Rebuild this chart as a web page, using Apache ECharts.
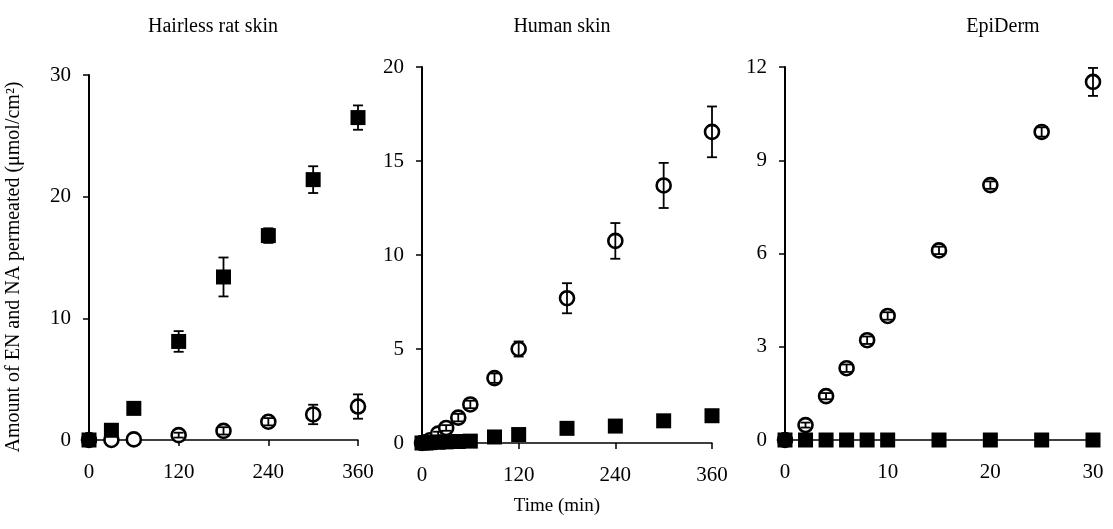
<!DOCTYPE html>
<html>
<head>
<meta charset="utf-8">
<script src="https://cdn.jsdelivr.net/npm/echarts@6/dist/echarts.min.js"></script>
<style>
html,body{margin:0;padding:0;background:#fff;}
#chart{width:1113px;height:529px;}
</style>
</head>
<body>
<div id="chart"></div>
<script>
// ---- Data ----
const panelTitles = ['Hairless rat skin', 'Human skin', 'EpiDerm'];
const xAxisTitle = 'Time (min)';
const yAxisTitle = 'Amount of EN and NA permeated (\u03bcmol/cm\u00b2)';

// Hairless rat skin
const ratTime = [0, 30, 60, 120, 180, 240, 300, 360];
const ratEN = [0, 0, 0.05, 0.4, 0.75, 1.5, 2.1, 2.75];
const ratENErr = [0, 0, 0, 0.2, 0.3, 0.3, 0.8, 1.0];
const ratNA = [0, 0.8, 2.6, 8.1, 13.4, 16.8, 21.4, 26.5];
const ratNAErr = [0, 0, 0, 0.85, 1.6, 0.6, 1.1, 1.0];

// Human skin
const humTime = [0, 5, 10, 20, 30, 45, 60, 90, 120, 180, 240, 300, 360];
const humEN = [0, 0.05, 0.15, 0.5, 0.8, 1.35, 2.05, 3.45, 5.0, 7.7, 10.75, 13.7, 16.55];
const humENErr = [0, 0, 0, 0.1, 0.15, 0.2, 0.2, 0.25, 0.4, 0.8, 0.95, 1.2, 1.35];
const humNA = [0, 0, 0.02, 0.04, 0.06, 0.08, 0.1, 0.32, 0.45, 0.78, 0.9, 1.18, 1.45];
const humNAErr = [0, 0, 0, 0, 0, 0, 0, 0, 0, 0, 0, 0, 0];

// EpiDerm
const epiTime = [0, 2, 4, 6, 8, 10, 15, 20, 25, 30];
const epiEN = [0, 0.48, 1.41, 2.31, 3.21, 3.99, 6.1, 8.2, 9.91, 11.52];
const epiENErr = [0, 0.08, 0.1, 0.12, 0.12, 0.12, 0.12, 0.12, 0.15, 0.45];
const epiNA = [0, 0, 0, 0, 0, 0, 0, 0, 0, 0];
const epiNAErr = [0, 0, 0, 0, 0, 0, 0, 0, 0, 0];

const xMax = [360, 360, 30];
const xInterval = [120, 120, 10];
const yMax = [30, 20, 12];
const yInterval = [10, 5, 3];

// ---- Chart ----
const FONT = '"Liberation Serif", "DejaVu Serif", serif';
const panels = [
  {t: ratTime, en: ratEN, enE: ratENErr, na: ratNA, naE: ratNAErr},
  {t: humTime, en: humEN, enE: humENErr, na: humNA, naE: humNAErr},
  {t: epiTime, en: epiEN, enE: epiENErr, na: epiNA, naE: epiNAErr}
];
const grids = [
  {left: 89, top: 75, width: 269, height: 365},
  {left: 422, top: 67, width: 290, height: 376},
  {left: 785, top: 67, width: 308, height: 373}
];

const xAxes = [], yAxes = [], series = [];
panels.forEach((p, i) => {
  xAxes.push({
    type: 'value', gridIndex: i, min: 0, max: xMax[i], interval: xInterval[i],
    axisLine: {lineStyle: {color: '#000', width: 1.5}},
    axisTick: {show: true, inside: false, length: 6, lineStyle: {color: '#000', width: 1.5}},
    axisLabel: {color: '#000', fontFamily: FONT, fontSize: 21, margin: 22},
    splitLine: {show: false}
  });
  yAxes.push({
    type: 'value', gridIndex: i, min: 0, max: yMax[i], interval: yInterval[i],
    axisLine: {show: true, lineStyle: {color: '#000', width: 2}},
    axisTick: {show: true, inside: false, length: 6, lineStyle: {color: '#000', width: 1.5}},
    axisLabel: {color: '#000', fontFamily: FONT, fontSize: 21, margin: 18},
    splitLine: {show: false}
  });
  const enData = p.t.map((x, k) => [x, p.en[k]]);
  const naData = p.t.map((x, k) => [x, p.na[k]]);
  const errData = [];
  p.t.forEach((x, k) => {
    if (p.enE[k] > 0) errData.push([x, p.en[k], p.enE[k]]);
    if (p.naE[k] > 0) errData.push([x, p.na[k], p.naE[k]]);
  });
  series.push({
    name: 'EN', type: 'scatter', xAxisIndex: i, yAxisIndex: i, data: enData,
    symbol: 'circle', symbolSize: 14, clip: false, z: 2,
    itemStyle: {color: '#fff', borderColor: '#000', borderWidth: 2.6, opacity: 1}
  });
  series.push({
    name: 'error', type: 'custom', xAxisIndex: i, yAxisIndex: i, data: errData, clip: false, z: 3,
    renderItem: function (params, api) {
      const x = api.value(0), y = api.value(1), e = api.value(2);
      const top = api.coord([x, y + e]);
      const bot = api.coord([x, y - e]);
      const hw = 5;
      const st = {stroke: '#000', lineWidth: 1.8, fill: null};
      return {
        type: 'group',
        children: [
          {type: 'line', shape: {x1: top[0], y1: top[1], x2: bot[0], y2: bot[1]}, style: st},
          {type: 'line', shape: {x1: top[0] - hw, y1: top[1], x2: top[0] + hw, y2: top[1]}, style: st},
          {type: 'line', shape: {x1: bot[0] - hw, y1: bot[1], x2: bot[0] + hw, y2: bot[1]}, style: st}
        ]
      };
    }
  });
  series.push({
    name: 'NA', type: 'scatter', xAxisIndex: i, yAxisIndex: i, data: naData,
    symbol: 'rect', symbolSize: 15, clip: false, z: 4,
    itemStyle: {color: '#000', opacity: 1}
  });
});

const titleCenters = [213, 562, 1003];
const graphics = panelTitles.map((t, i) => ({
  type: 'text', x: titleCenters[i], y: 27,
  style: {text: t, font: '20px ' + FONT, fill: '#000', textAlign: 'center', textVerticalAlign: 'middle'}
}));
graphics.push({
  type: 'text', x: 557, y: 506,
  style: {text: xAxisTitle, font: '19px ' + FONT, fill: '#000', textAlign: 'center', textVerticalAlign: 'middle'}
});
graphics.push({
  type: 'text', x: 14, y: 267, rotation: Math.PI / 2,
  style: {text: yAxisTitle, font: '20px ' + FONT, fill: '#000', textAlign: 'center', textVerticalAlign: 'middle'}
});

const chart = echarts.init(document.getElementById('chart'));
chart.setOption({
  backgroundColor: '#fff',
  animation: false,
  grid: grids,
  xAxis: xAxes,
  yAxis: yAxes,
  series: series,
  graphic: graphics
});
</script>
</body>
</html>
